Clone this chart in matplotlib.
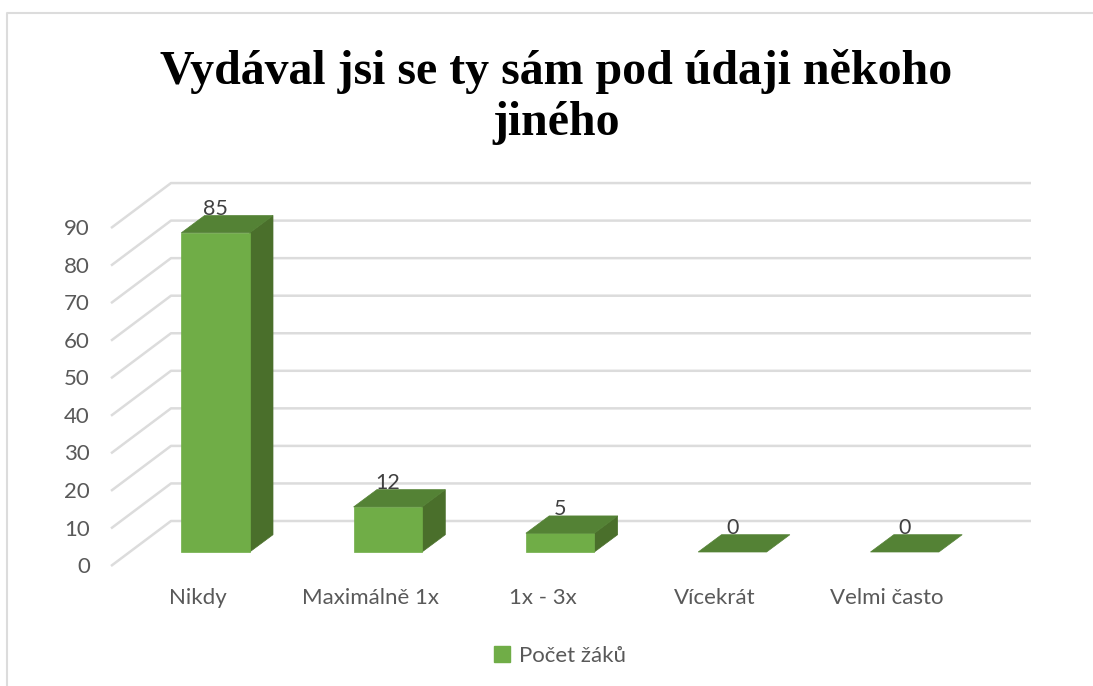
import matplotlib
matplotlib.use("Agg")
import matplotlib.pyplot as plt
from matplotlib.patches import Polygon, Patch

title = "Vydával jsi se ty sám pod údaji někoho\njiného"
categories = ["Nikdy", "Maximálně 1x", "1x - 3x", "Vícekrát", "Velmi často"]
values = [85, 12, 5, 0, 0]
series_name = "Počet žáků"
y_ticks = [0, 10, 20, 30, 40, 50, 60, 70, 80, 90]

FRONT = "#70ad47"
TOP = "#548235"
SIDE = "#4a6f2b"
GRID = "#dcdcdc"
TEXT = "#595959"
LABEL = "#404040"
FONT = "Lato"

W, H = 1093, 686
X0, STEP = 215.5, 172.3   # pixel x of first bar centre, pixels per category
Y0, UNIT = 552.0, 3.755   # pixel y of value 0, pixels per value
HALF = 34.2 / STEP        # half bar width in category units
DX, DY = 23.3 / STEP, 17.3 / UNIT    # depth of a bar
WALL_Y = 31.0 / UNIT      # back wall sits above the bar base
SIDE_Y = -45.0 / UNIT     # left wall front end drops this far


def fx(p):
    return (p - X0) / STEP


def fy(p):
    return (Y0 - p) / UNIT


fig = plt.figure(figsize=(W / 100, H / 100), dpi=100)
ax = fig.add_axes([0, 0, 1, 1])
ax.set_xlim(fx(0), fx(W))
ax.set_ylim(fy(H), fy(0))
ax.axis("off")

# chart frame, open on the right
ax.plot([fx(7), fx(7), fx(W)], [fy(H), fy(12.5), fy(12.5)], color="#dcdcdc", lw=1.5)

# gridlines on back wall and left wall
for v in y_ticks:
    ax.plot([fx(111), fx(171), fx(1031)],
            [v + WALL_Y + SIDE_Y, v + WALL_Y, v + WALL_Y],
            color=GRID, lw=1.8, solid_capstyle="butt", zorder=1)
    ax.text(fx(90), v + WALL_Y + SIDE_Y - 0.3, str(v), ha="right", va="center",
            fontsize=16, color=TEXT, family=FONT)

# bars
for i, (cat, v) in enumerate(zip(categories, values)):
    l, r = i - HALF, i + HALF
    if v > 0:
        ax.add_patch(Polygon([(r, 0), (r + DX, DY), (r + DX, v + DY), (r, v)],
                             fc=SIDE, ec=SIDE, lw=0.5, zorder=3))
        ax.add_patch(Polygon([(l, 0), (r, 0), (r, v), (l, v)],
                             fc=FRONT, ec=FRONT, lw=0.5, zorder=3))
    ax.add_patch(Polygon([(l, v), (r, v), (r + DX, v + DY), (l + DX, v + DY)],
                         fc=TOP, ec=TOP, lw=0.5, zorder=3))
    ax.text(i, v + DY + 1.8, str(v), ha="center", va="center",
            fontsize=15.5, color=LABEL, family=FONT, zorder=4)
    ax.text(i - 17.5 / STEP, fy(598), cat, ha="center", va="center",
            fontsize=16, color=TEXT, family=FONT)

ax.text(fx(556), fy(97), title, ha="center", va="center", fontsize=34.5,
        fontweight="bold", family="Liberation Serif", color="black",
        linespacing=1.2)

ax.legend(handles=[Patch(fc=FRONT, ec=FRONT, label=series_name)],
          loc="center", bbox_to_anchor=(560 / W, 1 - 656 / H), frameon=False,
          handlelength=0.75, handleheight=0.75, handletextpad=0.4,
          prop={"family": FONT, "size": 16}, labelcolor=TEXT)

fig.savefig("out.png", dpi=100)
